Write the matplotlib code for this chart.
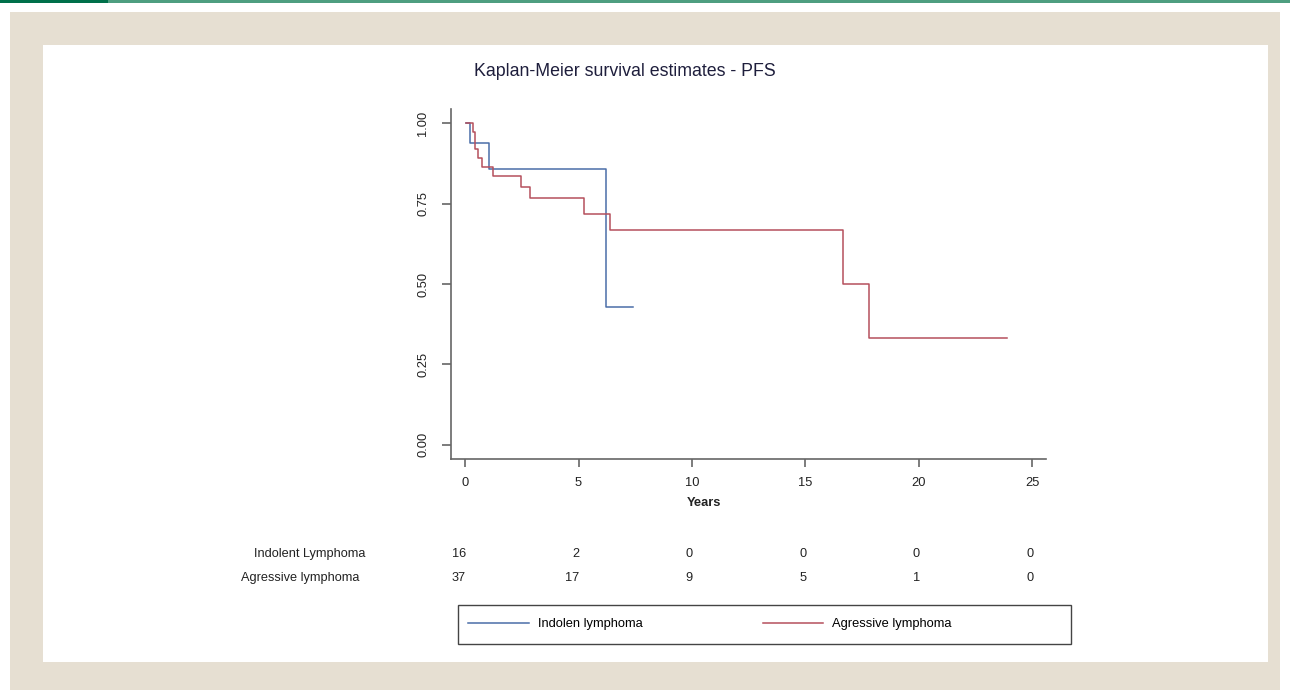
import matplotlib
matplotlib.use("Agg")
import matplotlib.pyplot as plt
from matplotlib.patches import Rectangle
from matplotlib.lines import Line2D

plt.rcParams['font.family'] = ['Liberation Sans', 'DejaVu Sans']

# Kaplan-Meier step data (years, survival)
indolent_t = [0.05, 0.2, 1.04, 6.23, 7.4]
indolent_s = [1.0, 0.9375, 0.857, 0.429, 0.429]
aggressive_t = [0.05, 0.36, 0.45, 0.58, 0.73, 1.24, 2.46, 2.86, 5.23, 6.37, 16.67, 17.78, 23.9]
aggressive_s = [1.0, 0.973, 0.919, 0.892, 0.865, 0.836, 0.802, 0.767, 0.717, 0.667, 0.5, 0.333, 0.333]

# number at risk table
risk_times = [0, 5, 10, 15, 20, 25]
risk_indolent = [16, 2, 0, 0, 0, 0]
risk_aggressive = [37, 17, 9, 5, 1, 0]
row_labels = ["Indolent Lymphoma", "Agressive lymphoma"]
legend_labels = ["Indolen lymphoma", "Agressive lymphoma"]

yticks = [0, 0.25, 0.5, 0.75, 1.0]
xticks = [0, 5, 10, 15, 20, 25]

W, H = 1290, 690
def fx(x): return x / W
def fy(y): return 1 - y / H

blue = "#4A6EA8"
red = "#B5505C"
axcol = "#666666"

fig = plt.figure(figsize=(12.9, 6.9), dpi=100)
fig.patch.set_facecolor("white")

# page decoration: green rule, beige frame, white panel (behind everything)
deco = dict(transform=fig.transFigure, ec="none", zorder=-10)
fig.add_artist(Rectangle((0, fy(3)), fx(108), 3 / H, fc="#00704A", **deco))
fig.add_artist(Rectangle((fx(108), fy(3)), 1 - fx(108), 3 / H, fc="#4E9E80", **deco))
fig.add_artist(Rectangle((fx(10), 0), fx(1280) - fx(10), fy(12), fc="#E6DFD2", **deco))
fig.add_artist(Rectangle((fx(43), fy(662)), fx(1268) - fx(43), (662 - 45) / H, fc="white", **deco))

ax = fig.add_axes([fx(451), fy(459), fx(1046) - fx(451), (459 - 109) / H])
ax.patch.set_alpha(0)
ax.step(indolent_t, indolent_s, where="post", color=blue, lw=1.1)
ax.step(aggressive_t, aggressive_s, where="post", color=red, lw=1.1)

ax.set_xlim(-0.62, 25.6)
ax.set_ylim(-0.044, 1.044)
for s in ["top", "right"]:
    ax.spines[s].set_visible(False)
for s in ["left", "bottom"]:
    ax.spines[s].set_color(axcol)
    ax.spines[s].set_linewidth(1.2)

ax.set_xticks(xticks)
ax.set_xticklabels([str(v) for v in xticks])
ax.set_yticks(yticks)
ax.set_yticklabels(["%.2f" % v for v in yticks], rotation=90, va="center")
ax.tick_params(axis="x", length=6, width=1.2, color=axcol, pad=7, labelsize=9.3, labelcolor="#222222")
ax.tick_params(axis="y", length=6.5, width=1.2, color=axcol, pad=9, labelsize=9.3, labelcolor="#222222")

fig.text(fx(704), fy(503), "Years", ha="center", va="center", fontsize=9.3, fontweight="bold", color="#222222")
fig.text(fx(625), fy(71), "Kaplan-Meier survival estimates - PFS", ha="center", va="center",
         fontsize=12.8, color="#1E1E3C")

# number at risk
fig.text(fx(365), fy(554), row_labels[0], ha="right", va="center", fontsize=9.2, color="#222222")
fig.text(fx(359), fy(578), row_labels[1], ha="right", va="center", fontsize=9.2, color="#222222")
for t, a, b in zip(risk_times, risk_indolent, risk_aggressive):
    xd = (ax.transData.transform((t, 0))[0] + 1) / W
    fig.text(xd, fy(554), str(a), ha="right", va="center", fontsize=9.2, color="#222222")
    fig.text(xd, fy(578), str(b), ha="right", va="center", fontsize=9.2, color="#222222")

# legend
handles = [Line2D([], [], color=blue, lw=1.1), Line2D([], [], color=red, lw=1.1)]
fig.legend(handles, legend_labels, loc="center left", bbox_to_anchor=(fx(468), fy(624)),
           bbox_transform=fig.transFigure, ncol=2, frameon=False, fontsize=9.3,
           handlelength=4.7, handletextpad=0.7, columnspacing=9.3, borderpad=0, borderaxespad=0)
fig.add_artist(Rectangle((fx(458), fy(644)), fx(1071) - fx(458), (644 - 605) / H,
                         transform=fig.transFigure, fill=False, ec="#444444", lw=1))

fig.savefig("out.png", dpi=100)
